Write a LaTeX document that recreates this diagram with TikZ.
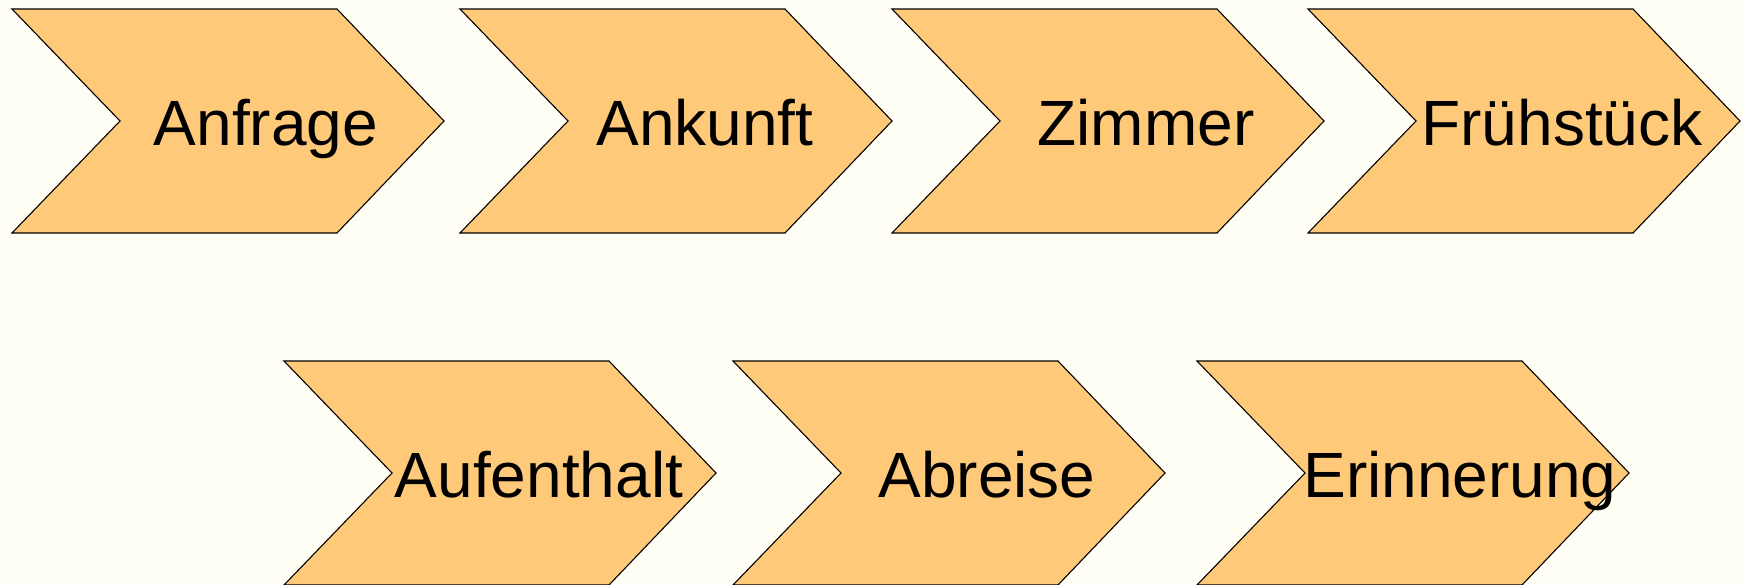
\documentclass[tikz,border=0pt]{standalone}
\usepackage{fontspec}
\setmainfont{Liberation Sans}
\definecolor{stepfill}{HTML}{FFC97A}
\definecolor{paper}{HTML}{FFFEF5}
\begin{document}
\begin{tikzpicture}[x=1pt,y=-1pt,
  chev/.style={draw=black, line width=1.1pt, fill=stepfill, line join=miter},
  lbl/.style={font=\fontsize{64}{76}\selectfont, anchor=base, inner sep=0pt}]
\fill[paper] (0,0) rectangle (1744,584);
\useasboundingbox (0,0) rectangle (1744,584);
% process steps: left edge / top edge / label offset / label / node name
\foreach \l/\t/\o/\txt/\nm in {
  12/9/254/Anfrage/anfrage,
  460/9/245/Ankunft/ankunft,
  892/9/254/Zimmer/zimmer,
  1308/9/254/Frühstück/fruehstueck,
  284/361/255/Aufenthalt/aufenthalt,
  733/361/254/Abreise/abreise,
  1197/361/263/Erinnerung/erinnerung}{
  \draw[chev] (\l,\t) -- ++(325,0) -- ++(107,112) -- ++(-107,112)
              -- ++(-325,0) -- ++(108,-112) -- cycle;
  \node[lbl] (\nm) at (\l+\o,\t+136) {\txt};
}
\end{tikzpicture}
\end{document}
